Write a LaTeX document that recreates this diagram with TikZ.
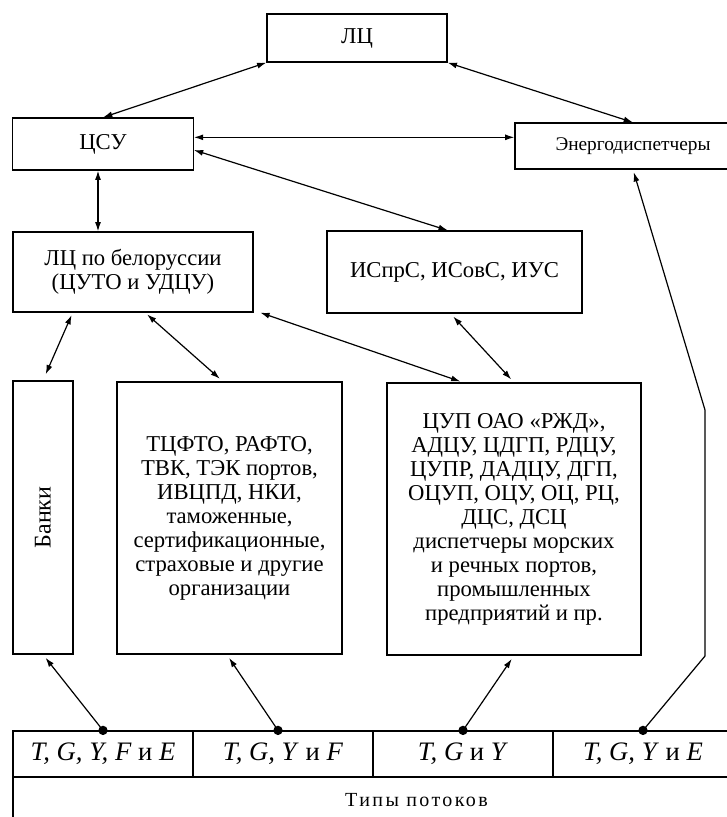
\documentclass[tikz,border=0pt]{standalone}
\usepackage{fontspec}
\setmainfont{Liberation Serif}
\usetikzlibrary{arrows.meta, calc}

\begin{document}
\begin{tikzpicture}[x=0.75pt, y=-0.75pt,
    box/.style={draw, line width=0.9pt, inner sep=0pt, align=center, font=\fontsize{17}{18}\selectfont},
    cell/.style={draw, line width=0.9pt, inner sep=0pt, minimum width=135pt, minimum height=34.5pt, font=\fontsize{20}{20}\selectfont},
    link/.style={line width=0.9pt, {Latex[length=7pt,width=4.5pt]}-{Latex[length=7pt,width=4.5pt]}},
    feed/.style={line width=0.9pt, -{Latex[length=7pt,width=4.5pt]}}]
    \useasboundingbox (0,0) rectangle (726,817);

    % Boxes
    \node[box, minimum width=135pt, minimum height=36pt] (lc) at (357,38) {ЛЦ};
    \node[box, minimum width=135.4pt, minimum height=39pt] (csu) at (103,144) {ЦСУ};
    \node[box, minimum width=177pt, minimum height=34.5pt, font=\fontsize{14.5}{16}\selectfont] (energo) at (633,146) {Энергодиспетчеры};
    \node[box, minimum width=180pt, minimum height=60pt] (lcb) at (133,272) {ЛЦ по белоруссии\\(ЦУТО и УДЦУ)};
    \node[box, minimum width=191.25pt, minimum height=61.5pt] (ispr) at (454.5,272) {ИСпрС, ИСовС, ИУС};
    \node[box, minimum width=45pt, minimum height=204.75pt] (bank) at (43,517.5) {};
    \node[rotate=90, font=\fontsize{18}{20}\selectfont] at (bank.center) {Банки};
    \node[box, minimum width=168.75pt, minimum height=204pt] (tcfto) at (229.5,518) {ТЦФТО, РАФТО,\\ТВК, ТЭК портов,\\ИВЦПД, НКИ,\\таможенные,\\сертификационные,\\страховые и другие\\организации};
    \node[box, minimum width=190.5pt, minimum height=204pt] (cup) at (514,519) {ЦУП ОАО «РЖД»,\\АДЦУ, ЦДГП, РДЦУ,\\ЦУПР, ДАДЦУ, ДГП,\\ОЦУП, ОЦУ, ОЦ, РЦ,\\ДЦС, ДСЦ\\диспетчеры морских\\и речных портов,\\промышленных\\предприятий и пр.};

    % Flow types
    \node[cell] (c1) at (103,754) {\textit{T, G, Y, F} и \textit{E}};
    \node[cell] (c2) at (283,754) {\textit{T, G, Y} и \textit{F}};
    \node[cell] (c3) at (463,754) {\textit{T, G} и \textit{Y}};
    \node[cell] (c4) at (643,754) {\textit{T, G, Y} и \textit{E}};
    \node[cell, minimum width=605.25pt, font=\fontsize{15}{18}\selectfont] (types) at (416.5,800) {\addfontfeature{LetterSpace=12}Типы потоков};

    % Links between boxes
    \coordinate (h1) at ([yshift=5pt]csu.east);
    \coordinate (v1) at ([xshift=-3.75pt]csu.south);
    \draw[link] (lc.south west) -- (csu.north);
    \draw[link] (lc.south east) -- (energo.north);
    \draw[link] (h1) -- (h1 -| energo.west);
    \draw[link] ([yshift=-4.5pt]csu.east) -- ([xshift=-5pt]ispr.north);
    \draw[link] (v1) -- (v1 |- lcb.north);
    \draw[link, shorten <=2pt, shorten >=5pt] ($(lcb.south west)!0.25!(lcb.south east)$) -- (bank.north);
    \draw[link, shorten <=2pt, shorten >=3pt] ($(lcb.south west)!0.55!(lcb.south east)$) -- ([xshift=-5pt]tcfto.north);
    \draw[link, shorten >=2pt] ([xshift=5pt]lcb.south east) -- ($(cup.north west)!0.3!(cup.north east)$);
    \draw[link, shorten <=3pt, shorten >=3pt] ([xshift=-3pt]ispr.south) -- (cup.north);

    % Feeds from flow types
    \coordinate (d1) at (c1.north);
    \coordinate (d2) at ([xshift=-3.75pt]c2.north);
    \coordinate (d3) at (c3.north);
    \coordinate (d4) at (c4.north);
    \coordinate (k1) at (705,656);
    \coordinate (k2) at (705,410);
    \draw[feed, shorten >=3pt] (d1) -- (bank.south);
    \draw[feed, shorten >=3pt] (d2) -- ([xshift=-2pt]tcfto.south);
    \draw[feed, shorten >=3pt] (d3) -- (cup.south);
    \draw[feed, shorten >=2pt] (d4) -- (k1) -- (k2) -- (energo.south);
    \foreach \d in {d1,d2,d3,d4}
        \fill (\d) circle[radius=3.5pt];
\end{tikzpicture}
\end{document}
